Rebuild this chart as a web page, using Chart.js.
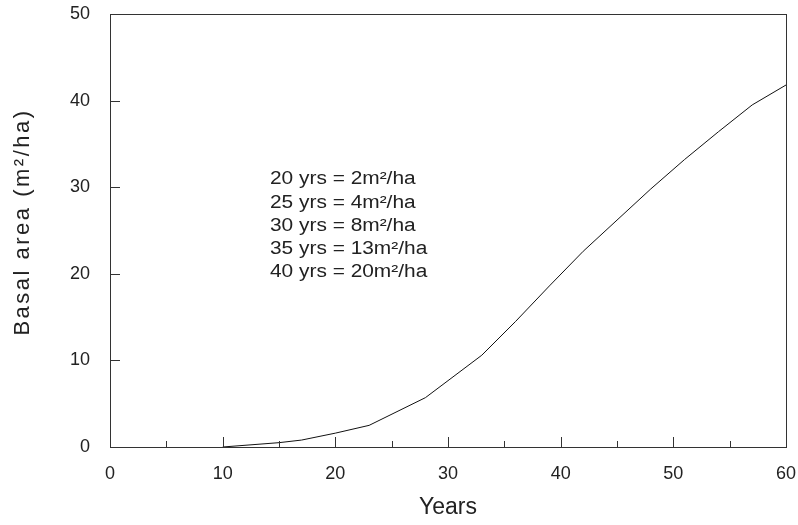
<!DOCTYPE html>
<html>
<head>
<meta charset="utf-8">
<script src="https://cdn.jsdelivr.net/npm/chart.js@4"></script>
<style>
  html, body { margin: 0; padding: 0; background: #fff; }
  #wrap { width: 798px; height: 525px; }
</style>
</head>
<body>
<div id="wrap"><canvas id="basal-area"></canvas></div>
<script>
// stand age (years) and basal area (m2/ha)
const years = [10, 15, 17, 20, 23, 28, 33, 36, 39, 42, 45, 48, 51, 54, 57, 60]
const basalArea = [0, 0.5, 0.8, 1.6, 2.5, 5.7, 10.6, 14.5, 18.6, 22.6, 26.2, 29.8, 33.2, 36.4, 39.5, 41.8]

const notes = [
  '20 yrs = 2m\u00b2/ha',
  '25 yrs = 4m\u00b2/ha',
  '30 yrs = 8m\u00b2/ha',
  '35 yrs = 13m\u00b2/ha',
  '40 yrs = 20m\u00b2/ha',
]
const yTitle = 'Basal area (m\u00b2/ha)'

const FONT = '"Liberation Sans", Arial, sans-serif'
const INK = '#222'

// box around the plot, inward tick marks (minor every 5 years), notes and y title
const frameTicks = {
  id: 'frameTicks',
  afterDraw(chart) {
    const { ctx, chartArea: a, scales: { x, y } } = chart
    ctx.save()
    ctx.strokeStyle = '#333'
    ctx.lineWidth = 1
    ctx.strokeRect(a.left + 0.5, a.top + 0.5, a.right - a.left, a.bottom - a.top)
    ctx.beginPath()
    for (let v = 0; v <= 60; v += 5) {
      const px = Math.round(x.getPixelForValue(v)) + 0.5
      const len = v % 10 === 0 ? 10 : 6
      ctx.moveTo(px, a.bottom)
      ctx.lineTo(px, a.bottom - len)
    }
    for (let v = 0; v <= 50; v += 10) {
      const py = Math.round(y.getPixelForValue(v)) + 0.5
      ctx.moveTo(a.left, py)
      ctx.lineTo(a.left + 10, py)
    }
    ctx.stroke()

    ctx.fillStyle = INK
    ctx.textBaseline = 'middle'

    // age / basal area notes, set a little wide
    ctx.save()
    ctx.font = '18px ' + FONT
    ctx.translate(x.getPixelForValue(14.2), y.getPixelForValue(30.9))
    ctx.scale(1.16, 1)
    notes.forEach((t, i) => ctx.fillText(t, 0, i * 23.2))
    ctx.restore()

    // spaced-out y axis title
    ctx.save()
    ctx.font = '22px ' + FONT
    ctx.letterSpacing = '2.5px'
    ctx.textAlign = 'center'
    ctx.translate(23, 222)
    ctx.rotate(-Math.PI / 2)
    ctx.fillText(yTitle, 0, 0)
    ctx.restore()

    ctx.restore()
  }
}

new Chart(document.getElementById('basal-area'), {
  type: 'line',
  data: {
    datasets: [{
      data: years.map((yr, i) => ({ x: yr, y: basalArea[i] })),
      borderColor: '#111',
      borderWidth: 1,
      pointRadius: 0,
      tension: 0,
    }]
  },
  options: {
    responsive: true,
    maintainAspectRatio: false,
    animation: false,
    layout: { padding: { top: 14, right: 12, left: 0, bottom: 0 } },
    plugins: { legend: { display: false }, tooltip: { enabled: false } },
    scales: {
      x: {
        type: 'linear',
        min: 0,
        max: 60,
        afterFit(scale) {
          scale.height = 78
          scale.paddingLeft = 0
          scale.paddingRight = 0
        },
        grid: { drawOnChartArea: false, drawTicks: false },
        border: { display: false },
        ticks: { stepSize: 10, padding: 16, color: INK, font: { family: FONT, size: 18 } },
        title: { display: true, text: 'Years', color: INK, font: { family: FONT, size: 23 } },
      },
      y: {
        min: 0,
        max: 50,
        afterFit(scale) {
          scale.width = 110
          scale.paddingTop = 0
          scale.paddingBottom = 0
        },
        grid: { drawOnChartArea: false, drawTicks: false },
        border: { display: false },
        ticks: { stepSize: 10, padding: 20, color: INK, font: { family: FONT, size: 18 } },
      }
    }
  },
  plugins: [frameTicks]
})
</script>
</body>
</html>
